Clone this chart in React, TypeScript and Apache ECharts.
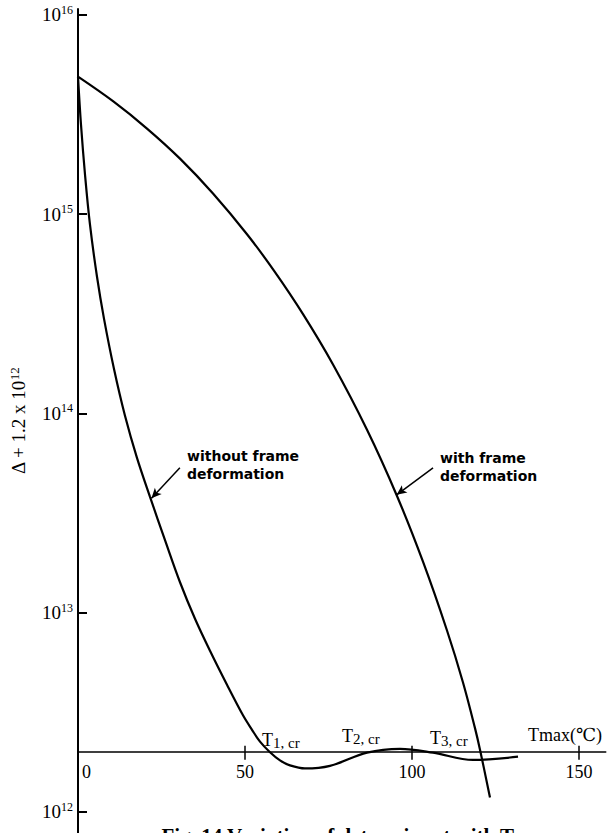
import React, { useEffect, useRef } from 'react';
import * as echarts from 'echarts';

// ---- data ----
const X_TICKS = [0, 50, 100, 150];
const Y_TICKS = [1e12, 1e13, 1e14, 1e15, 1e16];

const X_WITH = [0, 10.48, 20.66, 30.54, 40.42, 50.6, 58.98, 67.37, 76.35, 86.53, 95.51, 103.29, 110.48, 115.27, 118.86, 120.36, 123.35];
const Y_WITH = [4.9e15, 3.69e15, 2.69e15, 1.9e15, 1.27e15, 7.93e14, 5.12e14, 3.15e14, 1.76e14, 8.28e13, 3.85e13, 1.8e13, 8.13e12, 4.46e12, 2.63e12, 2.05e12, 1.18e12];

const X_WITHOUT = [0, 0.9, 2.1, 3.59, 5.69, 7.78, 10.78, 14.07, 17.66, 21.56, 26.05, 30.54, 35.03, 39.52, 44.61, 49.4, 52.1, 54.49, 57.49, 60.48, 63.47, 67.96, 75.45, 86.53, 96.41, 106.29, 118.26, 131.74];
const Y_WITHOUT = [4.9e15, 2.81e15, 1.58e15, 8.85e14, 4.85e14, 2.99e14, 1.67e14, 9.73e13, 5.98e13, 3.81e13, 2.31e13, 1.42e13, 9.31e12, 6.43e12, 4.34e12, 3.05e12, 2.58e12, 2.25e12, 1.99e12, 1.81e12, 1.71e12, 1.65e12, 1.7e12, 1.98e12, 2.07e12, 1.98e12, 1.82e12, 1.89e12];

const AXIS_CROSS_Y = 2e12; // horizontal axis drawn at this value
const ARROW_WITHOUT = [[30.5, 5.33e13], [22.0, 3.75e13]];
const ARROW_WITH = [[106.3, 5.33e13], [95.4, 3.9e13]];

// ---- layout ----
const W = 608;
const H = 833;
const GRID_LEFT = 78;
const X_MAX = 158;
const PX_PER_UNIT = 3.34;
const Y_MIN_EXP = 11.894;
const Y_MAX_EXP = 16.03;
const GRID_TOP = 9;
const PX_PER_DEC = 199.2;

const SERIF = '"Liberation Serif", "DejaVu Serif", serif';
const SANS = '"DejaVu Sans", sans-serif';

export default function App() {
  const ref = useRef<HTMLDivElement>(null);

  useEffect(() => {
    if (!ref.current) return;
    const chart = echarts.init(ref.current, null, { renderer: 'svg' });
    const gridHeight = (Y_MAX_EXP - Y_MIN_EXP) * PX_PER_DEC;
    const gridWidth = X_MAX * PX_PER_UNIT;
    const xOffset = -(Math.log10(AXIS_CROSS_Y) - Y_MIN_EXP) * PX_PER_DEC;

    const lineSeries = (name: string, xs: number[], ys: number[], arrow: number[][]) => ({
      name,
      type: 'line',
      xAxisIndex: 0,
      yAxisIndex: 0,
      data: xs.map((x, i) => [x, ys[i]]),
      smooth: 0.35,
      symbol: 'none',
      clip: false,
      lineStyle: { color: '#000', width: 2.2 },
      markLine: {
        silent: true,
        symbol: ['none', 'arrow'],
        symbolSize: [7, 10],
        lineStyle: { color: '#000', width: 1.5, type: 'solid' },
        label: { show: false },
        data: [[{ coord: arrow[0] }, { coord: arrow[1] }]],
      },
    });

    const xCommon = {
      type: 'value',
      min: 0,
      max: X_MAX,
      position: 'bottom',
      offset: xOffset,
      gridIndex: 0,
      splitLine: { show: false },
    };

    chart.setOption({
      animation: false,
      backgroundColor: '#fff',
      grid: { left: GRID_LEFT, top: GRID_TOP, width: gridWidth, height: gridHeight, containLabel: false },
      xAxis: [
        {
          ...xCommon,
          axisLine: { show: true, onZero: false, lineStyle: { color: '#000', width: 1.5 } },
          axisTick: { show: true, inside: true, length: 6, lineStyle: { color: '#000', width: 1.5 }, customValues: X_TICKS.slice(1) },
          axisLabel: {
            show: true,
            customValues: X_TICKS,
            margin: 11,
            color: '#000',
            fontFamily: SERIF,
            fontSize: 18,
            formatter: (v: number) => (v === 0 ? '{z|0}' : String(v)),
            rich: { z: { fontFamily: SERIF, fontSize: 18, color: '#000', padding: [0, 0, 0, 17] } },
          },
        },
        {
          ...xCommon,
          axisLine: { show: false, onZero: false },
          axisTick: { show: true, inside: false, length: 8, lineStyle: { color: '#000', width: 1.5 }, customValues: X_TICKS.slice(1) },
          axisLabel: { show: false },
        },
      ],
      yAxis: {
        type: 'log',
        logBase: 10,
        min: Math.pow(10, Y_MIN_EXP),
        max: Math.pow(10, Y_MAX_EXP),
        splitLine: { show: false },
        minorTick: { show: false },
        axisLine: { show: true, lineStyle: { color: '#000', width: 2 } },
        axisTick: { show: true, inside: true, length: 9, lineStyle: { color: '#000', width: 2 }, customValues: Y_TICKS },
        axisLabel: {
          customValues: Y_TICKS,
          margin: 5,
          formatter: (v: number) => `{a|10}{b|${Math.round(Math.log10(v))}}`,
          rich: {
            a: { fontFamily: SERIF, fontSize: 19, color: '#000', lineHeight: 22 },
            b: { fontFamily: SERIF, fontSize: 12, color: '#000', lineHeight: 16, verticalAlign: 'top' },
          },
        },
        name: '{a|Δ + 1.2 x 10}{b|12}',
        nameLocation: 'middle',
        nameRotate: 90,
        nameGap: 50,
        nameTextStyle: {
          rich: {
            a: { fontFamily: SERIF, fontSize: 19, color: '#000', lineHeight: 20 },
            b: { fontFamily: SERIF, fontSize: 13, color: '#000', lineHeight: 14, verticalAlign: 'top' },
          },
        },
      },
      series: [
        lineSeries('with frame deformation', X_WITH, Y_WITH, ARROW_WITH),
        lineSeries('without frame deformation', X_WITHOUT, Y_WITHOUT, ARROW_WITHOUT),
      ],
      graphic: [
        {
          type: 'text', left: 187, top: 447,
          style: { text: 'without frame\ndeformation', font: `bold 14px ${SANS}`, fill: '#000', lineHeight: 18 },
        },
        {
          type: 'text', left: 440, top: 449,
          style: { text: 'with frame\ndeformation', font: `bold 14px ${SANS}`, fill: '#000', lineHeight: 18 },
        },
        ...[
          { x: 262, y: 740, s: '1, cr' },
          { x: 342, y: 736, s: '2, cr' },
          { x: 430, y: 738, s: '3, cr' },
        ].map((t) => ({
          type: 'text',
          x: t.x,
          y: t.y,
          style: {
            text: `{t|T}{s|${t.s}}`,
            verticalAlign: 'middle',
            rich: {
              t: { fontFamily: SERIF, fontSize: 18, fill: '#000', lineHeight: 20 },
              s: { fontFamily: SERIF, fontSize: 15, fill: '#000', lineHeight: 15, verticalAlign: 'bottom' },
            },
          },
        })),
        {
          type: 'text', x: 528, y: 735,
          style: { text: 'Tmax(℃)', fontFamily: SERIF, fontSize: 18, fill: '#000', verticalAlign: 'middle' },
        },
        {
          type: 'text', x: 357, y: 836,
          style: {
            text: 'Fig. 14 Variation of determinant with Tmax',
            fontFamily: SERIF, fontSize: 21, fontWeight: 'bold', fill: '#000',
            align: 'center', verticalAlign: 'middle',
          },
        },
      ],
    });

    return () => chart.dispose();
  }, []);

  return <div ref={ref} style={{ position: 'absolute', left: 0, top: 0, width: W, height: H }} />;
}
